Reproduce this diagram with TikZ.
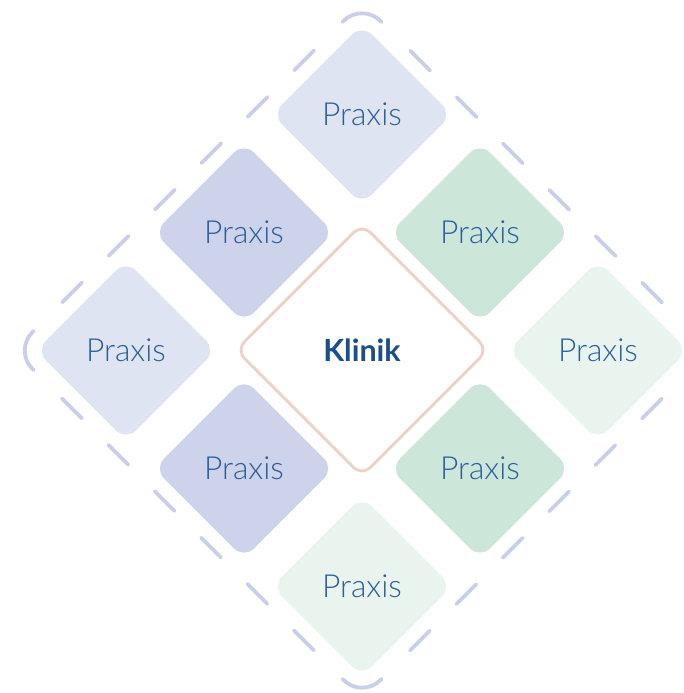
\documentclass[tikz,border=0pt]{standalone}
\usepackage{fontspec}
\setmainfont{Lato}
\newfontfamily\praxfont{Lato Light}
\usetikzlibrary{calc,shapes.geometric}
\definecolor{praxA}{HTML}{DFE4F2}
\definecolor{praxB}{HTML}{CDD3EA}
\definecolor{praxC}{HTML}{CCE6DA}
\definecolor{praxD}{HTML}{EAF4EE}
\definecolor{framecol}{HTML}{C9CEEA}
\definecolor{klinikborder}{HTML}{EBD2C9}
\definecolor{praxtext}{HTML}{2A5E9F}
\definecolor{klinikttext}{HTML}{1C4E8E}
\tikzset{
  praxis/.style={diamond, aspect=1, minimum width=180pt, minimum height=180pt,
    inner sep=0pt, rounded corners=14pt, text=praxtext,
    font=\praxfont\fontsize{31.8}{33}\selectfont},
  klinik/.style={diamond, aspect=1, minimum width=253pt, minimum height=253pt,
    inner sep=0pt, rounded corners=12pt, draw=klinikborder, line width=2.8pt,
    fill=white, text=klinikttext, font=\fontsize{30.5}{32}\selectfont\bfseries},
  framedash/.style={draw=framecol, line width=3.8pt, line cap=round}
}
\begin{document}
\begin{tikzpicture}[x=1pt,y=-1pt]
\clip (0,0) rectangle (683,693);
\fill[white] (0,0) rectangle (683,693);
% outer dashed frame
\coordinate (C) at (362,350.5);
\coordinate (T) at (362,2.5);
\coordinate (L) at (14,350.5);
\coordinate (B) at (362,698.5);
\coordinate (R) at (710,350.5);
\foreach \a/\b in {T/L,L/B,B/R,R/T}{
  \foreach \p/\q in {67.9/95.9,133.5/161.5,199.1/227.1,264.7/292.7,330.3/358.3,395.9/423.9}{
    \draw[framedash] ($(\a)!\p pt!(\b)$) -- ($(\a)!\q pt!(\b)$);
  }
}
\foreach \m/\a/\b in {T/L/R,L/B/T,B/R/L,R/T/B}{
  \draw[framedash, rounded corners=26pt] ($(\m)!27.5pt!(\a)$) -- (\m) -- ($(\m)!27.5pt!(\b)$);
}
% praxis diamonds
\node[praxis, fill=praxA] (pt) at (362,114.5) {Praxis};
\node[praxis, fill=praxB] (pul) at (244,232.5) {Praxis};
\node[praxis, fill=praxC] (pur) at (480,232.5) {Praxis};
\node[praxis, fill=praxA] (pl) at (126,350.5) {Praxis};
\node[praxis, fill=praxD] (pr) at (598,350.5) {Praxis};
\node[praxis, fill=praxB] (pll) at (244,468.5) {Praxis};
\node[praxis, fill=praxC] (plr) at (480,468.5) {Praxis};
\node[praxis, fill=praxD] (pb) at (362,586.5) {Praxis};
% centre
\node[klinik] (k) at (362,350) {Klinik};
\end{tikzpicture}
\end{document}
